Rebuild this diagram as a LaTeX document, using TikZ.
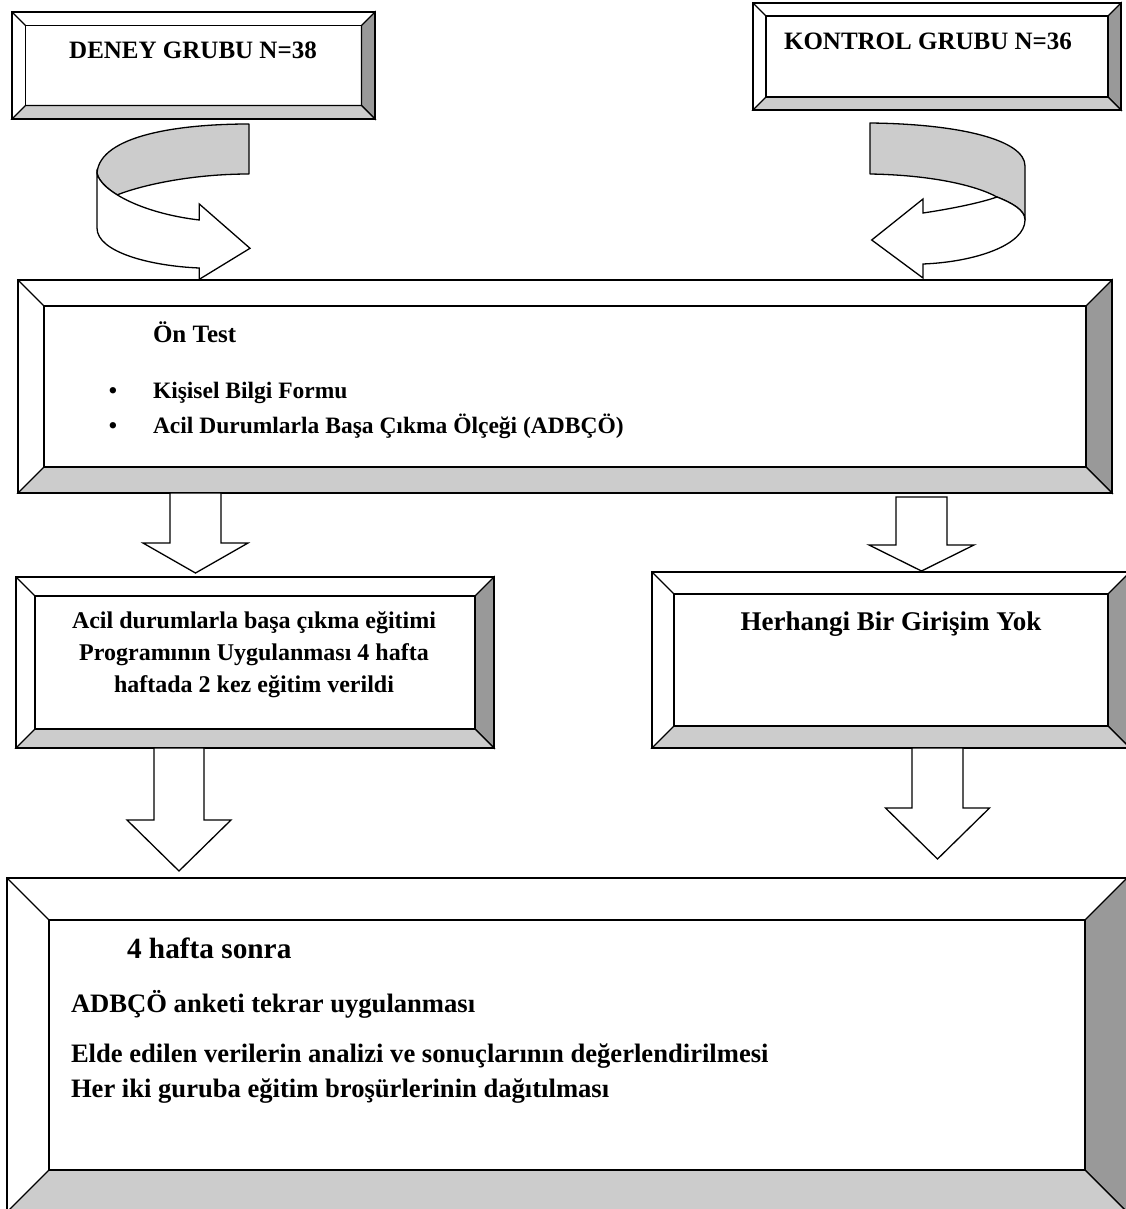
\documentclass[tikz,border=0pt]{standalone}
\usepackage{fontspec}
\setmainfont{Liberation Serif}
\usetikzlibrary{calc}
\definecolor{bevdark}{HTML}{999999}
\definecolor{bevlight}{HTML}{CCCCCC}
\definecolor{ribbon}{HTML}{CCCCCC}
\tikzset{
  frame/.style={draw=black, line width=1.3pt, rectangle, inner sep=0pt, outer sep=0pt, anchor=north west, fill=white},
  bevline/.style={draw=black, line width=1.3pt, line join=miter},
  lbl/.style={inner sep=0pt, outer sep=0pt, font=\bfseries\fontsize{23.5}{28}\selectfont},
  lblhead/.style={lbl, font=\bfseries\fontsize{25}{29}\selectfont},
  lblbig/.style={lbl, font=\bfseries\fontsize{24}{28}\selectfont},
  lblbody/.style={lbl, font=\bfseries\fontsize{26.6}{30}\selectfont},
  lblhuge/.style={lbl, font=\bfseries\fontsize{27}{30}\selectfont},
  lbltitle/.style={lbl, font=\bfseries\fontsize{29.3}{32}\selectfont},
  blockarrow/.style={draw=black, line width=1.3pt, fill=white, line join=miter},
  ribbonback/.style={draw=black, line width=1.3pt, fill=ribbon, line join=round},
  ribbonfront/.style={draw=black, line width=1.3pt, fill=white, line join=miter}
}
% name, x, y, width, height, bevel
\newcommand\bevelbox[6]{%
  \node[frame, minimum width=#4pt, minimum height=#5pt] (#1) at (#2,#3) {};
  \coordinate (#1-inw) at ($(#1.north west)+(#6,#6)$);
  \coordinate (#1-ine) at ($(#1.north east)+(-#6,#6)$);
  \coordinate (#1-ise) at ($(#1.south east)+(-#6,-#6)$);
  \coordinate (#1-isw) at ($(#1.south west)+(#6,-#6)$);
  \draw[bevline, fill=bevdark] (#1.north east) -- (#1.south east) -- (#1-ise) -- (#1-ine) -- cycle;
  \draw[bevline, fill=bevlight] (#1.south west) -- (#1.south east) -- (#1-ise) -- (#1-isw) -- cycle;
  \draw[bevline] (#1-inw) rectangle (#1-ise);
  \draw[bevline] (#1.north west) -- (#1-inw);
  \draw[bevline] (#1.north west) rectangle (#1.south east);
}
% x-centre, top, head base, tip, shaft width, head width
\newcommand\blockdown[6]{%
  \draw[blockarrow] ({#1-#5/2},#2) -- ({#1+#5/2},#2) -- ({#1+#5/2},#3) -- ({#1+#6/2},#3)
    -- (#1,#4) -- ({#1-#6/2},#3) -- ({#1-#5/2},#3) -- cycle;
}
\begin{document}
\begin{tikzpicture}[x=1pt,y=-1pt]
\useasboundingbox (0,0) rectangle (1126,1209);
\fill[white] (0,0) rectangle (1126,1209);

% top boxes
\bevelbox{deney}{12}{12}{363}{107}{13.5}
\node[lblhead, anchor=base] (tdeney) at (193,59) {DENEY GRUBU N=38};
\bevelbox{kontrol}{753}{3}{368}{107}{13}
\node[lblhead, anchor=base] (tkontrol) at (928,50) {KONTROL GRUBU N=36};

% left curved arrow
\draw[ribbonback] (249,124) .. controls (180,124) and (100,135) .. (97,173)
  .. controls (98.2,179.8) and (105.32,187.56) .. (117.21,194.87)
  .. controls (145,184) and (195,174) .. (249,174) -- cycle;
\draw[ribbonfront] (97,173) -- (97,228) .. controls (97,252) and (150,266) .. (199.3,268)
  -- (199.3,279.3) -- (250,248.3) -- (199.3,204) -- (199.3,220)
  .. controls (140,213) and (100,190) .. (97,173) -- cycle;

% right curved arrow
\draw[ribbonback] (870,123) .. controls (960,124) and (1025,140) .. (1025,166)
  -- (1025,220) .. controls (1025,210) and (1012,203) .. (997,197)
  .. controls (975,185) and (930,175) .. (870,174) -- cycle;
\draw[ribbonfront] (923,213) .. controls (950,209) and (980,203) .. (997,197)
  .. controls (1012,203) and (1025,210) .. (1025,220)
  .. controls (1025,245) and (975,262) .. (923,264)
  -- (923,278) -- (871.7,240) -- (923,199) -- cycle;

% Ön Test box
\bevelbox{ontest}{18}{280}{1094}{213}{26}
\node[lblhead, anchor=base west] (tontest) at (153,342) {Ön Test};
\node[lbl, anchor=base] (bul1) at (113,398) {•};
\node[lbl, anchor=base west] (tkisisel) at (153,398) {Kişisel Bilgi Formu};
\node[lbl, anchor=base] (bul2) at (113,433) {•};
\node[lbl, anchor=base west] (tolcek) at (153,433) {Acil Durumlarla Başa Çıkma Ölçeği (ADBÇÖ)};

% arrows down from Ön Test
\blockdown{195.5}{493}{543}{573}{51}{105}
\blockdown{921.5}{497}{545}{571}{51}{105}

% middle boxes
\bevelbox{acil}{16}{577}{478}{171}{19}
\node[lblbig, anchor=base] (tacil1) at (254,628) {Acil durumlarla başa çıkma eğitimi};
\node[lblbig, anchor=base] (tacil2) at (254,660) {Programının Uygulanması 4 hafta};
\node[lblbig, anchor=base] (tacil3) at (254,692) {haftada 2 kez eğitim verildi};

\bevelbox{herhangi}{652}{572}{478}{176}{22}
\node[lblhuge, anchor=base] (therhangi) at (891,630) {Herhangi Bir Girişim Yok};

% arrows down to final box
\blockdown{179}{748}{820}{871}{50}{104}
\blockdown{937.5}{748}{808}{859}{51}{104}

% final box
\bevelbox{sonra}{7}{878}{1120}{334}{42}
\node[lbltitle, anchor=base west] (tsonra) at (127,958) {4 hafta sonra};
\node[lblbody, anchor=base west] (tadbco) at (71,1012) {ADBÇÖ anketi tekrar uygulanması};
\node[lblbody, anchor=base west] (telde) at (71,1062) {Elde edilen verilerin analizi ve sonuçlarının değerlendirilmesi};
\node[lblbody, anchor=base west] (ther) at (71,1097) {Her iki guruba eğitim broşürlerinin dağıtılması};
\end{tikzpicture}
\end{document}
